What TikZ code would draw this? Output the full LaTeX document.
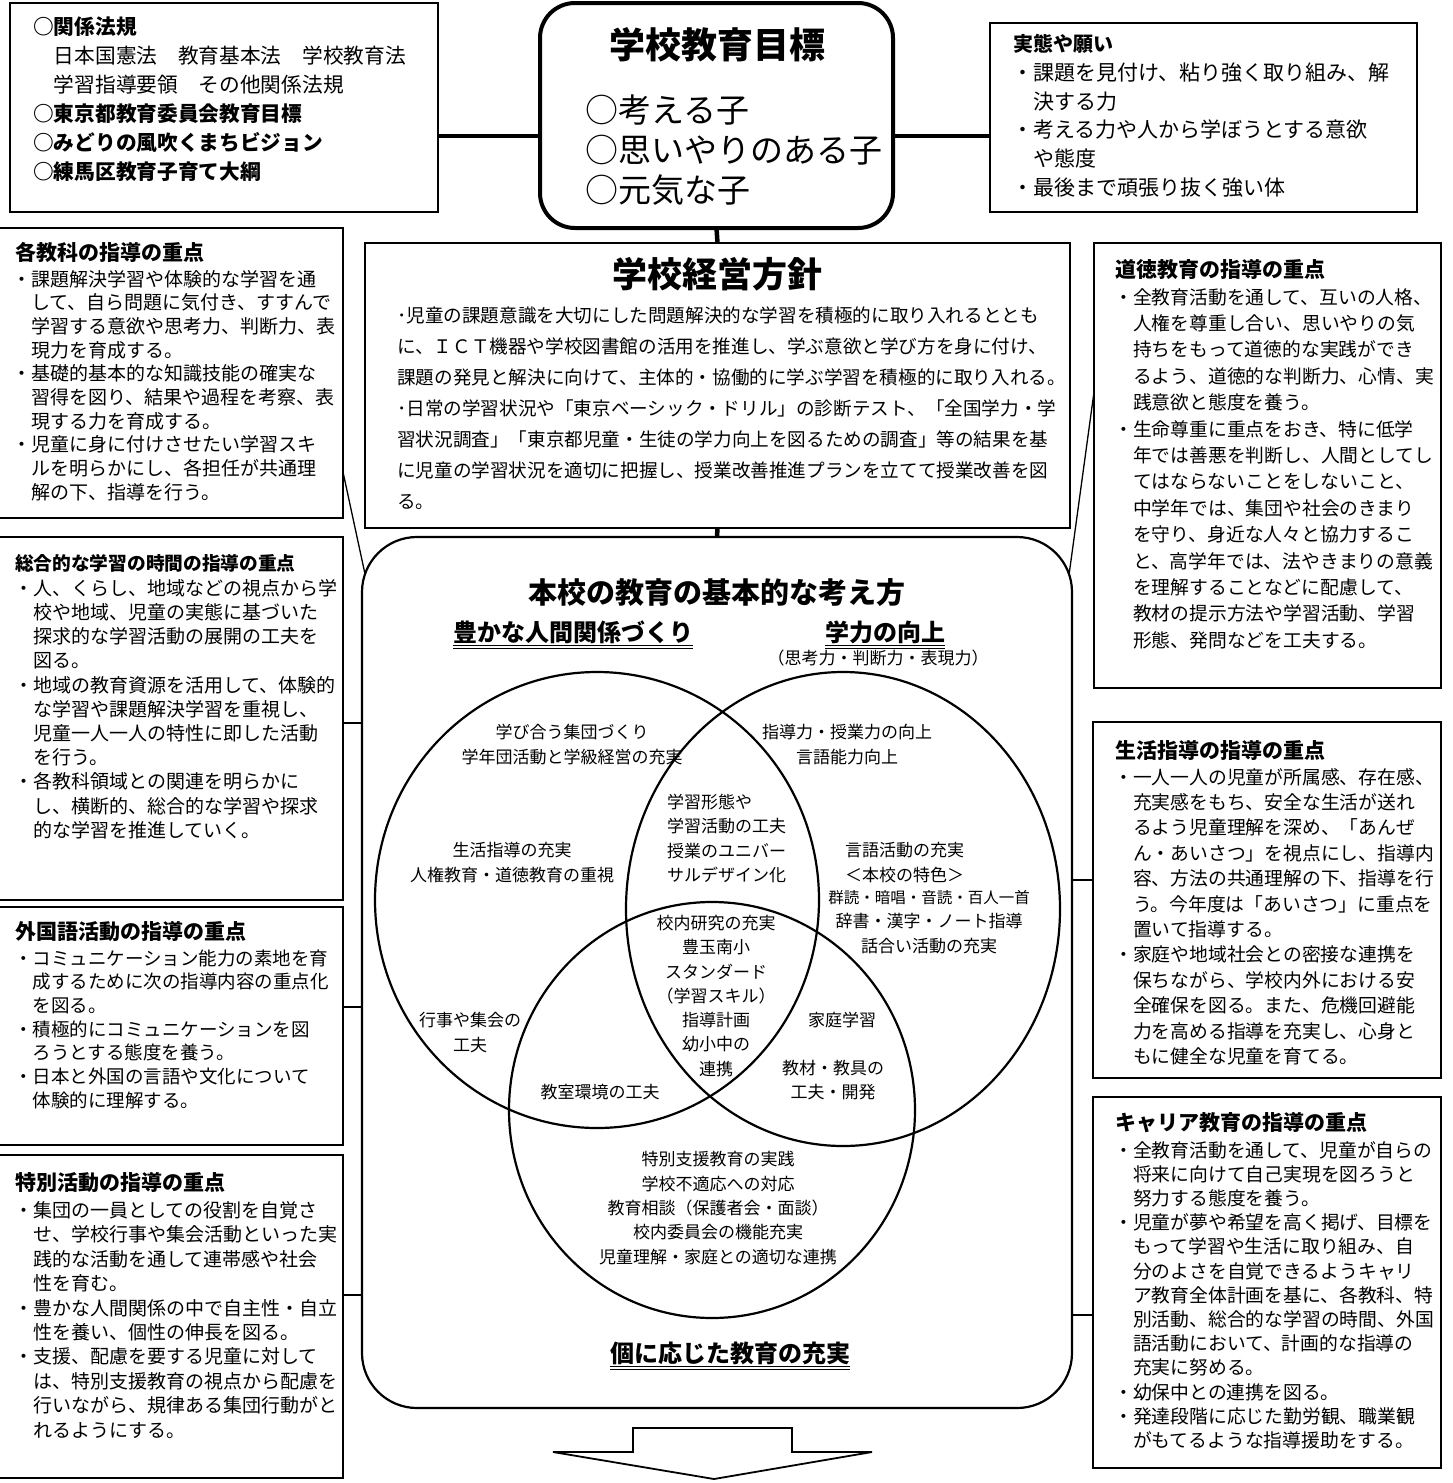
\documentclass[tikz,border=0pt]{standalone}
\usepackage{fontspec}
\setmainfont{Noto Sans CJK JP}
\usetikzlibrary{shapes.geometric}

\XeTeXlinebreaklocale "ja"
\XeTeXlinebreakskip=0pt plus 3pt minus 1pt
\newcommand{\jfs}[2]{\fontsize{#1}{#2}\selectfont}
\newcommand{\jline}[1]{\makebox[652pt][s]{#1}}

\begin{document}
\begin{tikzpicture}[x=1pt,y=-1pt,
  panel/.style={draw,line width=1.8pt,inner sep=0pt,outer sep=0pt,anchor=north west},
  head/.style={font=\bfseries\jfs{21}{25},anchor=west,inner sep=0pt},
  body/.style={align=left,anchor=west,inner sep=0pt},
  vtext/.style={font=\jfs{17}{24.3},inner sep=0pt,align=center},
  circ/.style={draw,ellipse,line width=2.2pt,inner sep=0pt},
  link/.style={line width=1.3pt},
  bold link/.style={line width=4.5pt},
  dbl/.style={line width=1pt}]
\useasboundingbox (0,0) rectangle (1452,1483);

% top row
\node[panel,minimum width=428pt,minimum height=209pt] (hoki) at (10,3) {};
\node[panel,line width=4pt,rounded corners=35pt,minimum width=353pt,minimum height=225pt] (mokuhyo) at (540,3) {};
\node[panel,minimum width=427pt,minimum height=189pt] (jittai) at (990,23) {};

\node[body,font=\jfs{20.7}{29}] (hokiB) at (33,99.5) {{\bfseries ○関係法規}\\
　日本国憲法　教育基本法　学校教育法\\
　学習指導要領　その他関係法規\\
{\bfseries ○東京都教育委員会教育目標}\\
{\bfseries ○みどりの風吹くまちビジョン}\\
{\bfseries ○練馬区教育子育て大綱}};

\node[font=\bfseries\jfs{36}{40},inner sep=0pt] (mokuhyoT) at (717,45) {学校教育目標};
\node[body,font=\jfs{33}{40}] (mokuhyoB) at (585,150) {○考える子\\○思いやりのある子\\○元気な子};

\node[head,font=\bfseries\jfs{20}{24}] (jittaiT) at (1013,44) {実態や願い};
\node[body,font=\jfs{21}{28.7}] (jittaiB) at (1012,130) {・課題を見付け、粘り強く取り組み、解\\
　決する力\\
・考える力や人から学ぼうとする意欲\\
　や態度\\
・最後まで頑張り抜く強い体};

% school policy
\node[panel,minimum width=705pt,minimum height=285pt] (keiei) at (365,243) {};
\node[font=\bfseries\jfs{35}{40},inner sep=0pt] (keieiT) at (717,274) {学校経営方針};
\node[body,font=\jfs{18.6}{31}] (keieiB) at (397,408) {\jline{･児童の課題意識を大切にした問題解決的な学習を積極的に取り入れるととも}\\
\jline{に、ＩＣＴ機器や学校図書館の活用を推進し、学ぶ意欲と学び方を身に付け、}\\
\jline{課題の発見と解決に向けて、主体的・協働的に学ぶ学習を積極的に取り入れる。}\\
\jline{･日常の学習状況や「東京ベーシック・ドリル」の診断テスト、「全国学力・学}\\
\jline{習状況調査」「東京都児童・生徒の学力向上を図るための調査」等の結果を基}\\
\jline{に児童の学習状況を適切に把握し、授業改善推進プランを立てて授業改善を図}\\
る。};

% main frame
\node[panel,line width=2.2pt,rounded corners=55pt,minimum width=710pt,minimum height=871pt] (kihon) at (362,537) {};

% left column
\node[panel,minimum width=348pt,minimum height=290pt] (kyoka) at (-5,228) {};
\node[head] (kyokaT) at (15,252) {各教科の指導の重点};
\node[body,font=\jfs{19}{23.7}] (kyokaB) at (12,385.5) {・課題解決学習や体験的な学習を通\\
　して、自ら問題に気付き、すすんで\\
　学習する意欲や思考力、判断力、表\\
　現力を育成する。\\
・基礎的基本的な知識技能の確実な\\
　習得を図り、結果や過程を考察、表\\
　現する力を育成する。\\
・児童に身に付けさせたい学習スキ\\
　ルを明らかにし、各担任が共通理\\
　解の下、指導を行う。};

\node[panel,minimum width=348pt,minimum height=363pt] (sogo) at (-5,537) {};
\node[head,font=\bfseries\jfs{18.7}{22}] (sogoT) at (15,563) {総合的な学習の時間の指導の重点};
\node[body,font=\jfs{19}{24.2}] (sogoB) at (14,709) {・人、くらし、地域などの視点から学\\
　校や地域、児童の実態に基づいた\\
　探求的な学習活動の展開の工夫を\\
　図る。\\
・地域の教育資源を活用して、体験的\\
　な学習や課題解決学習を重視し、\\
　児童一人一人の特性に即した活動\\
　を行う。\\
・各教科領域との関連を明らかに\\
　し、横断的、総合的な学習や探求\\
　的な学習を推進していく。};

\node[panel,minimum width=348pt,minimum height=238pt] (gaikoku) at (-5,907) {};
\node[head] (gaikokuT) at (15,932) {外国語活動の指導の重点};
\node[body,font=\jfs{18.5}{23.7}] (gaikokuB) at (14,1029.1) {・コミュニケーション能力の素地を育\\
　成するために次の指導内容の重点化\\
　を図る。\\
・積極的にコミュニケーションを図\\
　ろうとする態度を養う。\\
・日本と外国の言語や文化について\\
　体験的に理解する。};

\node[panel,minimum width=348pt,minimum height=323pt] (tokkatsu) at (-5,1155) {};
\node[head] (tokkatsuT) at (15,1183) {特別活動の指導の重点};
\node[body,font=\jfs{19}{24.4}] (tokkatsuB) at (14,1319.8) {・集団の一員としての役割を自覚さ\\
　せ、学校行事や集会活動といった実\\
　践的な活動を通して連帯感や社会\\
　性を育む。\\
・豊かな人間関係の中で自主性・自立\\
　性を養い、個性の伸長を図る。\\
・支援、配慮を要する児童に対して\\
　は、特別支援教育の視点から配慮を\\
　行いながら、規律ある集団行動がと\\
　れるようにする。};

% right column
\node[panel,minimum width=347pt,minimum height=445pt] (dotoku) at (1094,243) {};
\node[head] (dotokuT) at (1115,270) {道徳教育の指導の重点};
\node[body,font=\jfs{18.8}{26.4}] (dotokuB) at (1114,468.6) {・全教育活動を通して、互いの人格、\\
　人権を尊重し合い、思いやりの気\\
　持ちをもって道徳的な実践ができ\\
　るよう、道徳的な判断力、心情、実\\
　践意欲と態度を養う。\\
・生命尊重に重点をおき、特に低学\\
　年では善悪を判断し、人間としてし\\
　てはならないことをしないこと、\\
　中学年では、集団や社会のきまり\\
　を守り、身近な人々と協力するこ\\
　と、高学年では、法やきまりの意義\\
　を理解することなどに配慮して、\\
　教材の提示方法や学習活動、学習\\
　形態、発問などを工夫する。};

\node[panel,minimum width=348pt,minimum height=356pt] (seikatsu) at (1093,722) {};
\node[head] (seikatsuT) at (1115,750) {生活指導の指導の重点};
\node[body,font=\jfs{18.8}{25.4}] (seikatsuB) at (1114,916.7) {・一人一人の児童が所属感、存在感、\\
　充実感をもち、安全な生活が送れ\\
　るよう児童理解を深め、「あんぜ\\
　ん・あいさつ」を視点にし、指導内\\
　容、方法の共通理解の下、指導を行\\
　う。今年度は「あいさつ」に重点を\\
　置いて指導する。\\
・家庭や地域社会との密接な連携を\\
　保ちながら、学校内外における安\\
　全確保を図る。また、危機回避能\\
　力を高める指導を充実し、心身と\\
　もに健全な児童を育てる。};

\node[panel,minimum width=348pt,minimum height=371pt] (career) at (1093,1097) {};
\node[head] (careerT) at (1115,1123) {キャリア教育の指導の重点};
\node[body,font=\jfs{18.8}{24.2}] (careerB) at (1114,1295.2) {・全教育活動を通して、児童が自らの\\
　将来に向けて自己実現を図ろうと\\
　努力する態度を養う。\\
・児童が夢や希望を高く掲げ、目標を\\
　もって学習や生活に取り組み、自\\
　分のよさを自覚できるようキャリ\\
　ア教育全体計画を基に、各教科、特\\
　別活動、総合的な学習の時間、外国\\
　語活動において、計画的な指導の\\
　充実に努める。\\
・幼保中との連携を図る。\\
・発達段階に応じた勤労観、職業観\\
　がもてるような指導援助をする。};

% connectors
\coordinate (kyokaEnd) at (365,574);
\coordinate (dotokuEnd) at (1069,575);
\path[bold link]
  (hoki.east |- 0,136) edge (mokuhyo.west |- 0,136)
  (mokuhyo.east |- 0,136) edge (jittai.west |- 0,136)
  (mokuhyo.south) edge (keiei.north)
  (keiei.south) edge (kihon.north);
\path[link]
  (kyoka.east |- 0,472) edge (kyokaEnd)
  (sogo.east |- 0,723) edge (kihon.west |- 0,723)
  (gaikoku.east |- 0,1007) edge (kihon.west |- 0,1007)
  (tokkatsu.east |- 0,1295) edge (kihon.west |- 0,1295)
  (dotoku.west |- 0,392) edge (dotokuEnd)
  (seikatsu.west |- 0,880) edge (kihon.east |- 0,880)
  (career.west |- 0,1315) edge (kihon.east |- 0,1315);

% basic idea
\node[font=\bfseries\jfs{29}{32},inner sep=0pt] (kangae) at (717,593) {本校の教育の基本的な考え方};
\node[font=\bfseries\jfs{24}{28},inner sep=0pt] (yutaka) at (573,632) {豊かな人間関係づくり};
\node[font=\bfseries\jfs{24}{28},inner sep=0pt] (koujou) at (885,632) {学力の向上};
\node[vtext] (shiko) at (878,658) {（思考力・判断力・表現力）};
\node[font=\bfseries\jfs{24}{28},inner sep=0pt] (kobetsu) at (730,1353) {個に応じた教育の充実};
\foreach \n in {yutaka,koujou,kobetsu}{
  \draw[dbl] ([yshift=-2pt]\n.south west) -- ([yshift=-2pt]\n.south east);
  \draw[dbl] ([yshift=-5pt]\n.south west) -- ([yshift=-5pt]\n.south east);
}

% venn
\node[circ,minimum width=444pt,minimum height=456pt] (ningen) at (597,900) {};
\node[circ,minimum width=434pt,minimum height=474pt] (gakuryoku) at (843,909) {};
\node[circ,minimum width=406pt,minimum height=416pt] (ko) at (712,1110) {};

\node[vtext] (manabi) at (572,744.5) {学び合う集団づくり\\学年団活動と学級経営の充実};
\node[vtext] (shido) at (847,744.5) {指導力・授業力の向上\\言語能力向上};
\node[vtext,align=left,anchor=west] (keitai) at (667,838.5) {学習形態や\\学習活動の工夫\\授業のユニバー\\サルデザイン化};
\node[vtext] (seishi) at (512,862.5) {生活指導の充実\\人権教育・道徳教育の重視};
\node[vtext,align=left,anchor=west] (gengo) at (845,862.5) {言語活動の充実\\＜本校の特色＞};
\node[vtext] (gundoku) at (929,922) {{\jfs{15.5}{24.3}群読・暗唱・音読・百人一首}\\辞書・漢字・ノート指導\\話合い活動の充実};
\node[vtext] (kounai) at (716,995.9) {校内研究の充実\\豊玉南小\\スタンダード\\（学習スキル）\\指導計画\\幼小中の\\連携};
\node[vtext] (gyoji) at (470,1032.5) {行事や集会の\\工夫};
\node[vtext] (katei) at (842,1020) {家庭学習};
\node[vtext] (kyozai) at (833,1080) {教材・教具の\\工夫・開発};
\node[vtext] (kyoshitsu) at (600,1092) {教室環境の工夫};
\node[vtext] (tokushi) at (718,1208) {特別支援教育の実践\\学校不適応への対応\\教育相談（保護者会・面談）\\校内委員会の機能充実\\児童理解・家庭との適切な連携};

% arrow
\draw[line width=1.8pt] (633,1428) -- (792,1428) -- (792,1452) -- (872,1452) -- (714,1479)
  -- (553,1452) -- (633,1452) -- cycle;
\end{tikzpicture}
\end{document}
